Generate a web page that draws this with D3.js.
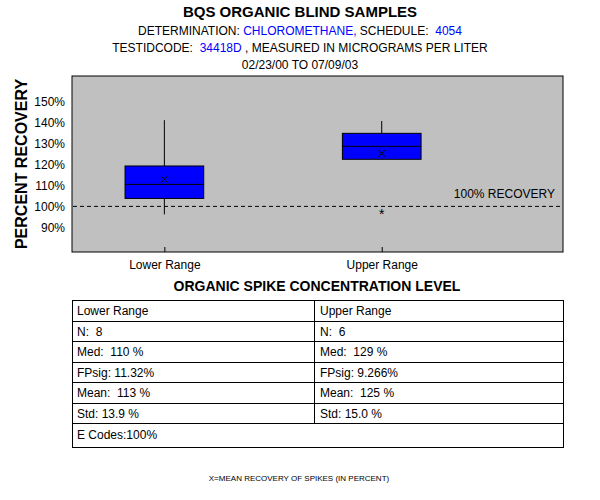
<!DOCTYPE html>
<html>
<head>
<meta charset="utf-8">
<script src="https://cdn.jsdelivr.net/npm/d3@7"></script>
<style>
body { margin: 0; background: #fff; }
text { font-family: "Liberation Sans", Arial, sans-serif; white-space: pre; }
</style>
</head>
<body>
<div id="chart"></div>
<script>
// data
const categories = ["Lower Range", "Upper Range"];
const q1 = [103.8, 122.5];
const median = [110.5, 128.7];
const q3 = [119.3, 134.9];
const whiskerLow = [96.2, 122.5];
const whiskerHigh = [141.2, 140.8];
const means = [112.9, 125.3];
const outliers = [[], [97.4]];
const yTicks = [90, 100, 110, 120, 130, 140, 150];

const tableLeft = ["Lower Range", "N:  8", "Med:  110 %", "FPsig: 11.32%", "Mean:  113 %", "Std: 13.9 %"];
const tableRight = ["Upper Range", "N:  6", "Med:  129 %", "FPsig: 9.266%", "Mean:  125 %", "Std: 15.0 %"];
const tableFooter = "E Codes:100%";

const width = 600, height = 500;
const plot = {left: 72, right: 563, top: 76, bottom: 252};

const svg = d3.select("#chart").append("svg")
    .attr("width", width)
    .attr("height", height);

// titles
const titles = svg.append("g").attr("text-anchor", "middle");
titles.append("text").attr("x", 300).attr("y", 17)
    .attr("font-size", "15px").attr("font-weight", "bold")
    .text("BQS ORGANIC BLIND SAMPLES");
let t = titles.append("text").attr("x", 300).attr("y", 35).attr("font-size", "12px");
t.append("tspan").text("DETERMINATION: ");
t.append("tspan").attr("fill", "#0000ff").text("CHLOROMETHANE,");
t.append("tspan").text(" SCHEDULE:  ");
t.append("tspan").attr("fill", "#0000ff").text("4054");
t = titles.append("text").attr("x", 300).attr("y", 52).attr("font-size", "12px");
t.append("tspan").text("TESTIDCODE:  ");
t.append("tspan").attr("fill", "#0000ff").text("34418D");
t.append("tspan").text(" , MEASURED IN MICROGRAMS PER LITER");
titles.append("text").attr("x", 300).attr("y", 69).attr("font-size", "12px")
    .text("02/23/00 TO 07/09/03");

// scales
const y = d3.scaleLinear()
    .domain([78.2, 162.3])
    .range([plot.bottom, plot.top]);

const x = d3.scaleLinear()
    .domain([0.575, 2.834])
    .range([plot.left, plot.right]);

const boxW = 0.362; // in x units

svg.append("rect")
    .attr("x", plot.left).attr("y", plot.top)
    .attr("width", plot.right - plot.left)
    .attr("height", plot.bottom - plot.top)
    .attr("fill", "#c0c0c0")
    .attr("stroke", "#000");

// y axis labels
const yAxis = svg.append("g")
    .attr("transform", `translate(${plot.left},0)`)
    .call(d3.axisLeft(y).tickValues(yTicks).tickSize(0).tickPadding(7).tickFormat(d => d + "%"));
yAxis.select(".domain").remove();
yAxis.selectAll("text").attr("font-size", "12px").attr("font-family", "Liberation Sans, Arial, sans-serif").attr("fill", "#000");

svg.append("text")
    .attr("transform", `translate(27,${(plot.top + plot.bottom) / 2}) rotate(-90)`)
    .attr("text-anchor", "middle")
    .attr("font-size", "16px").attr("font-weight", "bold")
    .text("PERCENT RECOVERY");

// x axis: ticks point inward
const xAxis = svg.append("g")
    .attr("transform", `translate(0,${plot.bottom})`)
    .call(d3.axisBottom(x).tickValues([1, 2]).tickSizeInner(-5).tickSizeOuter(0).tickPadding(8)
        .tickFormat(d => categories[d - 1]));
xAxis.select(".domain").remove();
xAxis.selectAll("line").attr("stroke", "#000");
xAxis.selectAll("text").attr("font-size", "12px").attr("font-family", "Liberation Sans, Arial, sans-serif").attr("fill", "#000");

// 100% line
svg.append("line")
    .attr("x1", plot.left + 1).attr("x2", plot.right - 1)
    .attr("y1", y(100)).attr("y2", y(100))
    .attr("stroke", "#000").attr("stroke-dasharray", "4,3");
svg.append("text")
    .attr("x", 555).attr("y", y(100) - 8)
    .attr("text-anchor", "end").attr("font-size", "12px")
    .text("100% RECOVERY");

// boxes
const boxes = svg.append("g")
    .selectAll("g")
    .data(categories)
    .join("g");

boxes.append("line")
    .attr("x1", (d, i) => x(i + 1)).attr("x2", (d, i) => x(i + 1))
    .attr("y1", (d, i) => y(q3[i])).attr("y2", (d, i) => y(whiskerHigh[i]))
    .attr("stroke", "#000");
boxes.append("line")
    .attr("x1", (d, i) => x(i + 1)).attr("x2", (d, i) => x(i + 1))
    .attr("y1", (d, i) => y(q1[i])).attr("y2", (d, i) => y(whiskerLow[i]))
    .attr("stroke", "#000");
boxes.append("rect")
    .attr("x", (d, i) => x(i + 1 - boxW / 2))
    .attr("width", (d, i) => x(i + 1 + boxW / 2) - x(i + 1 - boxW / 2))
    .attr("y", (d, i) => y(q3[i]))
    .attr("height", (d, i) => y(q1[i]) - y(q3[i]))
    .attr("fill", "#0000ff").attr("stroke", "#000");
boxes.append("line")
    .attr("x1", (d, i) => x(i + 1 - boxW / 2)).attr("x2", (d, i) => x(i + 1 + boxW / 2))
    .attr("y1", (d, i) => y(median[i])).attr("y2", (d, i) => y(median[i]))
    .attr("stroke", "#000");
// mean markers
boxes.append("path")
    .attr("d", (d, i) => {
        const cx = x(i + 1), cy = y(means[i]), s = 3.5;
        return `M${cx - s},${cy - s}L${cx + s},${cy + s}M${cx - s},${cy + s}L${cx + s},${cy - s}`;
    })
    .attr("stroke", "#000");
// outliers
boxes.each(function (d, i) {
    d3.select(this).selectAll("text.out")
        .data(outliers[i])
        .join("text")
        .attr("class", "out")
        .attr("x", x(i + 1)).attr("y", v => y(v) + 7)
        .attr("text-anchor", "middle").attr("font-size", "14px")
        .text("*");
});

// table
svg.append("text")
    .attr("x", 317).attr("y", 291)
    .attr("text-anchor", "middle").attr("font-size", "14px").attr("font-weight", "bold")
    .text("ORGANIC SPIKE CONCENTRATION LEVEL");

const tbl = {left: 72, right: 563, mid: 314, top: 300, row: 20.5, lastRow: 24};
const rowY = d3.range(tableLeft.length + 1).map(i => tbl.top + i * tbl.row);
const tableBottom = rowY[rowY.length - 1] + tbl.lastRow;

const tg = svg.append("g");
tg.append("rect")
    .attr("x", tbl.left + 0.5).attr("y", tbl.top + 0.5)
    .attr("width", tbl.right - tbl.left).attr("height", tableBottom - tbl.top)
    .attr("fill", "none").attr("stroke", "#000");
tg.selectAll("line.row")
    .data(rowY.slice(1))
    .join("line")
    .attr("class", "row")
    .attr("x1", tbl.left).attr("x2", tbl.right)
    .attr("y1", d => Math.round(d) + 0.5).attr("y2", d => Math.round(d) + 0.5)
    .attr("stroke", "#000");
tg.append("line")
    .attr("x1", tbl.mid + 0.5).attr("x2", tbl.mid + 0.5)
    .attr("y1", tbl.top).attr("y2", rowY[rowY.length - 1])
    .attr("stroke", "#000");
tg.selectAll("text.l")
    .data(tableLeft)
    .join("text")
    .attr("class", "l")
    .attr("x", tbl.left + 5).attr("y", (d, i) => rowY[i] + 15)
    .attr("font-size", "12px")
    .text(d => d);
tg.selectAll("text.r")
    .data(tableRight)
    .join("text")
    .attr("class", "r")
    .attr("x", tbl.mid + 6).attr("y", (d, i) => rowY[i] + 15)
    .attr("font-size", "12px")
    .text(d => d);
tg.append("text")
    .attr("x", tbl.left + 5).attr("y", rowY[rowY.length - 1] + 16)
    .attr("font-size", "12px")
    .text(tableFooter);

svg.append("text")
    .attr("x", 299).attr("y", 481)
    .attr("text-anchor", "middle").attr("font-size", "8px")
    .text("X=MEAN RECOVERY OF SPIKES (IN PERCENT)");
</script>
</body>
</html>
